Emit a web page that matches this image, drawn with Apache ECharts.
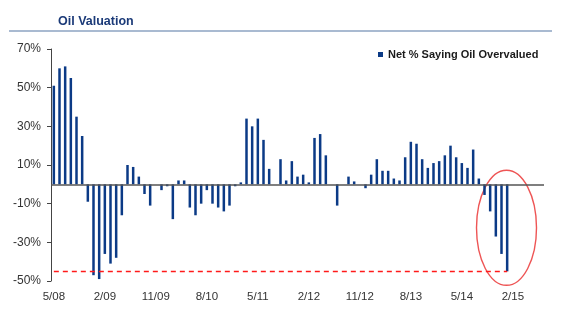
<!DOCTYPE html>
<html>
<head>
<meta charset="utf-8">
<script src="https://cdn.jsdelivr.net/npm/echarts@6/dist/echarts.min.js"></script>
<style>
html,body{margin:0;padding:0;background:#fff;}
#c{width:588px;height:335px;}
</style>
</head>
<body>
<div id="c"></div>
<script>
// Categories: monthly survey dates from 5/08 (axis runs to 7/15)
const months = [];
for (let i = 0; i < 87; i++) {
  const m = (4 + i) % 12 + 1;
  const y = 8 + Math.floor((4 + i) / 12);
  months.push(m + '/' + String(y).padStart(2, '0'));
}
// Net % saying oil overvalued (null = no survey that month)
const netOvervalued = [
  51, 60, 61, 55, 35, 25, -9, -47, -49, -36,
  -41, -38, -16, 10, 9, 4, -5, -11, null, -3,
  -1, -18, 2, 2, -12, -16, -10, -3, -10, -12,
  -14, -11, -1, 1, 34, 30, 34, 23, 8, null,
  13, 2, 12, 4, 5, 1, 24, 26, 15, null,
  -11, null, 4, 1.5, null, -2, 5, 13, 7, 7,
  3, 2, 14, 22, 21, 13, 8.5, 11, 12, 15,
  20, 14, 11, 8.5, 18, 3, -5.5, -14, -27, -36,
  -45, null, null, null, null, null, null
];
const seriesName = 'Net % Saying Oil Overvalued';
const titleText = 'Oil Valuation';
const lowLevel = -45;               // red dashed reference level
const yTickValues = [-50, -30, -10, 10, 30, 50, 70];
const yTickLabels = ['-50%', '-30%', '-10%', '10%', '30%', '50%', '70%'];

const chart = echarts.init(document.getElementById('c'), null, {renderer: 'canvas'});
const lastIdx = 80;

const option = {
  animation: false,
  backgroundColor: '#ffffff',
  title: {
    text: titleText,
    left: 58, top: 15, padding: 0,
    textStyle: {
      fontFamily: "'Liberation Sans',Arial,sans-serif",
      fontSize: 12.5, fontWeight: 'bold', color: '#1B3A78'
    }
  },
  legend: {
    data: [seriesName],
    left: 378, top: 49,
    icon: 'rect', itemWidth: 5, itemHeight: 5,
    padding: 0,
    textStyle: {
      fontFamily: "'Liberation Sans',Arial,sans-serif",
      fontSize: 11, fontWeight: 'bold', color: '#1a1a1a'
    }
  },
  grid: {left: 51, right: 44, top: 49, bottom: 54, containLabel: false},
  xAxis: {
    type: 'category',
    data: months,
    boundaryGap: true,
    axisLine: {show: false, onZero: false},
    axisTick: {show: false},
    axisLabel: {
      interval: 8, margin: 10,
      fontFamily: "'Liberation Sans',Arial,sans-serif",
      fontSize: 11.5, color: '#333'
    },
    splitLine: {show: false}
  },
  yAxis: [
    {
      type: 'value', min: -50, max: 70, position: 'left',
      axisLine: {show: true, lineStyle: {color: '#444', width: 1}},
      axisTick: {show: false},
      axisLabel: {show: false},
      splitLine: {show: false}
    },
    {
      // label/tick axis, offset by +50 so ticks start at a multiple of the interval
      type: 'value', min: 0, max: 120, interval: 20, position: 'left',
      axisLine: {show: false},
      axisTick: {show: true, length: 4, inside: false, lineStyle: {color: '#444'}},
      axisLabel: {
        margin: 10,
        fontFamily: "'Liberation Sans',Arial,sans-serif",
        fontSize: 12, color: '#333',
        formatter: function (v) {
          const i = yTickValues.indexOf(v - 50);
          return i >= 0 ? yTickLabels[i] : '';
        }
      },
      splitLine: {show: false}
    }
  ],
  series: [{
    name: seriesName,
    type: 'bar',
    yAxisIndex: 0,
    data: netOvervalued,
    barWidth: 2.5,
    itemStyle: {color: '#0B3A86'},
    markLine: {
      silent: true,
      symbol: 'none',
      label: {show: false},
      animation: false,
      data: [
        {yAxis: 0, lineStyle: {color: '#555', width: 1.6, type: 'solid'}},
        [
          {coord: [months[0], lowLevel], lineStyle: {color: '#FF1A1A', width: 1.3, type: [5, 4]}},
          {coord: [months[lastIdx], lowLevel]}
        ]
      ]
    }
  }]
};
chart.setOption(option);

// Annotation: header rule and red ellipse around the latest readings
const c = chart.convertToPixel({gridIndex: 0}, [months[lastIdx - 1], -23]);
chart.setOption({
  graphic: [
    {
      type: 'line',
      shape: {x1: 9, y1: 31, x2: 552, y2: 31},
      style: {stroke: '#8DA3C2', lineWidth: 1.5},
      silent: true
    },
    {
      type: 'ellipse',
      shape: {cx: c[0] + 5, cy: c[1] - 1, rx: 30, ry: 57.5},
      style: {stroke: '#EE5555', lineWidth: 1.4, fill: 'none'},
      silent: true
    }
  ]
});
</script>
</body>
</html>
